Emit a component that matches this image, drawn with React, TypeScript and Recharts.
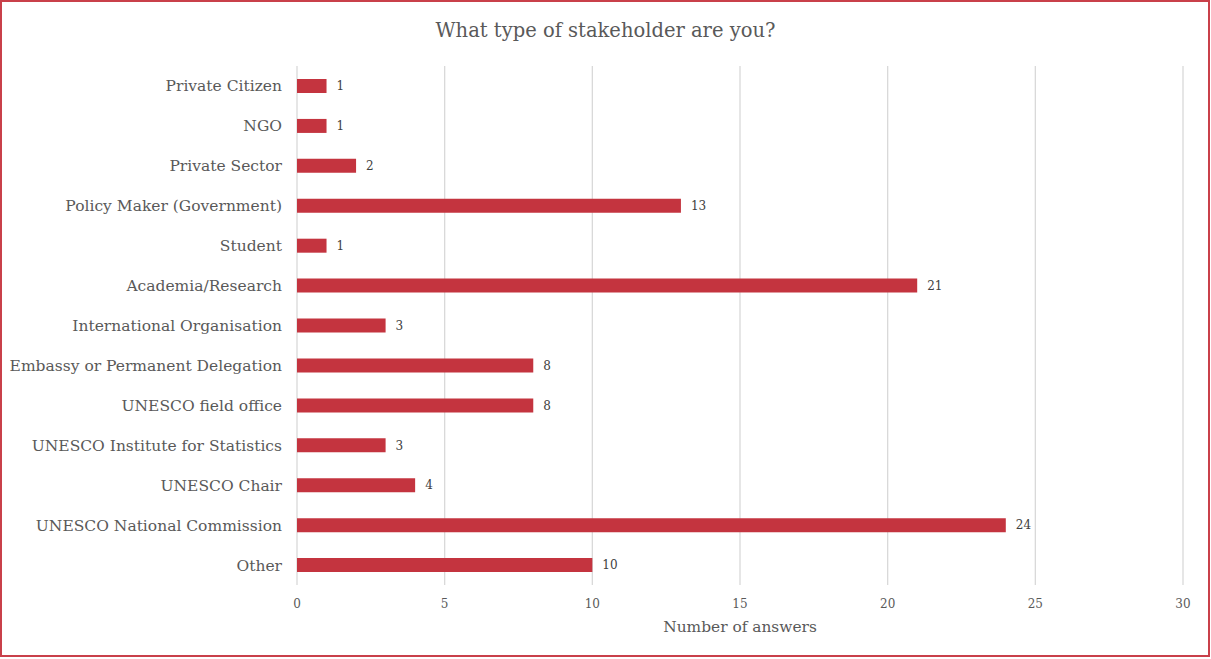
import React from 'react';
import { BarChart, Bar, XAxis, YAxis, CartesianGrid, LabelList, Label } from 'recharts';

const categories = [
    'Private Citizen',
    'NGO',
    'Private Sector',
    'Policy Maker (Government)',
    'Student',
    'Academia/Research',
    'International Organisation',
    'Embassy or Permanent Delegation',
    'UNESCO field office',
    'UNESCO Institute for Statistics',
    'UNESCO Chair',
    'UNESCO National Commission',
    'Other',
];
const answers = [1, 1, 2, 13, 1, 21, 3, 8, 8, 3, 4, 24, 10];
const xTicks = [0, 5, 10, 15, 20, 25, 30];

const data = categories.map((name, i) => ({ name, value: answers[i] }));

const FONT = '"DejaVu Serif", serif';

const App: React.FC = () => {
    return (
        <div
            style={{
                position: 'absolute',
                left: 0,
                top: 0,
                width: 1211,
                height: 659,
                background: '#fff',
                fontFamily: FONT,
            }}
        >
            <div
                style={{
                    position: 'absolute',
                    left: 0,
                    top: 0,
                    width: 1206,
                    height: 653,
                    border: '2px solid #c9404a',
                }}
            />
            <div
                style={{
                    position: 'absolute',
                    left: 0,
                    top: 19,
                    width: 1211,
                    textAlign: 'center',
                    fontSize: 19.5,
                    color: '#595959',
                }}
            >
                What type of stakeholder are you?
            </div>
            <BarChart
                width={1211}
                height={659}
                data={data}
                layout="vertical"
                margin={{ top: 66, right: 28, left: 0, bottom: 24 }}
                style={{ position: 'absolute', left: 0, top: 0 }}
            >
                <CartesianGrid vertical horizontal={false} stroke="#d9d9d9" strokeWidth={1.3} />
                <XAxis
                    type="number"
                    domain={[0, 30]}
                    ticks={xTicks}
                    axisLine={false}
                    tickLine={false}
                    tickMargin={8}
                    height={50}
                    tick={{ fontSize: 12, fill: '#595959', fontFamily: FONT }}
                >
                    <Label
                        value="Number of answers"
                        position="insideBottom"
                        offset={3}
                        style={{ fontSize: 15.4, fill: '#595959', fontFamily: FONT }}
                    />
                </XAxis>
                <YAxis
                    type="category"
                    dataKey="name"
                    width={297}
                    axisLine={false}
                    tickLine={false}
                    tickMargin={9}
                    interval={0}
                    tick={{ fontSize: 15.5, fill: '#595959', fontFamily: FONT }}
                />
                <Bar dataKey="value" fill="#c4343f" barSize={14} isAnimationActive={false}>
                    <LabelList
                        dataKey="value"
                        position="right"
                        offset={10}
                        style={{ fontSize: 12, fill: '#404040', fontFamily: FONT }}
                    />
                </Bar>
            </BarChart>
        </div>
    );
};

export default App;
